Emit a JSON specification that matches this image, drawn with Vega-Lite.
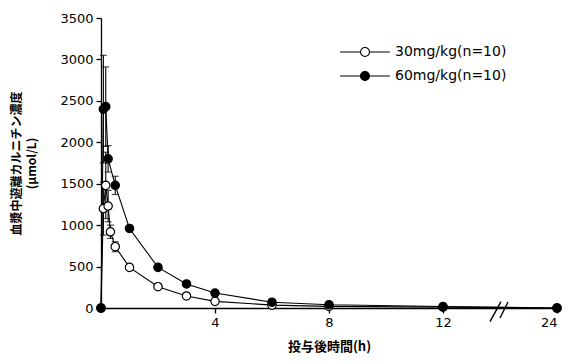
{
  "$schema": "https://vega.github.io/schema/vega-lite/v6.json",
  "width": 456,
  "height": 290,
  "autosize": {"type": "none"},
  "padding": {"left": 101, "top": 18, "right": 14, "bottom": 56},
  "background": "white",
  "config": {
    "view": {"stroke": null},
    "axis": {"grid": false, "domainColor": "black", "tickColor": "black", "labelColor": "black", "titleColor": "black", "labelFont": "DejaVu Sans", "labelFontSize": 13, "domainWidth": 1.3, "tickWidth": 1.3}
  },
  "datasets": {
    "conc": [
      {"t": 0, "v": 0, "lo": null, "hi": null, "group": "30mg/kg(n=10)"},
      {"t": 0.083, "v": 1200, "lo": 880, "hi": 1520, "group": "30mg/kg(n=10)"},
      {"t": 0.167, "v": 1480, "lo": 1080, "hi": 1880, "group": "30mg/kg(n=10)"},
      {"t": 0.25, "v": 1230, "lo": 1040, "hi": 1420, "group": "30mg/kg(n=10)"},
      {"t": 0.33, "v": 920, "lo": 840, "hi": 1000, "group": "30mg/kg(n=10)"},
      {"t": 0.5, "v": 740, "lo": 680, "hi": 800, "group": "30mg/kg(n=10)"},
      {"t": 1, "v": 490, "lo": null, "hi": null, "group": "30mg/kg(n=10)"},
      {"t": 2, "v": 257, "lo": null, "hi": null, "group": "30mg/kg(n=10)"},
      {"t": 3, "v": 145, "lo": null, "hi": null, "group": "30mg/kg(n=10)"},
      {"t": 4, "v": 80, "lo": null, "hi": null, "group": "30mg/kg(n=10)"},
      {"t": 6, "v": 35, "lo": null, "hi": null, "group": "30mg/kg(n=10)"},
      {"t": 8, "v": 20, "lo": null, "hi": null, "group": "30mg/kg(n=10)"},
      {"t": 12, "v": 10, "lo": null, "hi": null, "group": "30mg/kg(n=10)"},
      {"t": 24, "v": 0, "lo": null, "hi": null, "group": "30mg/kg(n=10)"},
      {"t": 0, "v": 0, "lo": null, "hi": null, "group": "60mg/kg(n=10)"},
      {"t": 0.083, "v": 2400, "lo": 1750, "hi": 3050, "group": "60mg/kg(n=10)"},
      {"t": 0.167, "v": 2430, "lo": 1950, "hi": 2910, "group": "60mg/kg(n=10)"},
      {"t": 0.25, "v": 1800, "lo": 1640, "hi": 1960, "group": "60mg/kg(n=10)"},
      {"t": 0.5, "v": 1480, "lo": 1370, "hi": 1590, "group": "60mg/kg(n=10)"},
      {"t": 1, "v": 960, "lo": null, "hi": null, "group": "60mg/kg(n=10)"},
      {"t": 2, "v": 490, "lo": null, "hi": null, "group": "60mg/kg(n=10)"},
      {"t": 3, "v": 290, "lo": null, "hi": null, "group": "60mg/kg(n=10)"},
      {"t": 4, "v": 180, "lo": null, "hi": null, "group": "60mg/kg(n=10)"},
      {"t": 6, "v": 70, "lo": null, "hi": null, "group": "60mg/kg(n=10)"},
      {"t": 8, "v": 40, "lo": null, "hi": null, "group": "60mg/kg(n=10)"},
      {"t": 12, "v": 18, "lo": null, "hi": null, "group": "60mg/kg(n=10)"},
      {"t": 24, "v": 0, "lo": null, "hi": null, "group": "60mg/kg(n=10)"}
    ],
    "breaks": [
      {"xa": 16.95, "xb": 18.1, "ya": -165, "yb": 76},
      {"xa": 18.0, "xb": 18.84, "ya": -121, "yb": 72}
    ]
  },
  "layer": [
    {
      "data": {"name": "breaks"},
      "mark": {"type": "rule", "color": "black", "strokeWidth": 1.4},
      "encoding": {
        "x": {"field": "xa", "type": "quantitative", "scale": {"domain": [0, 12, 24], "range": [0, 342, 456]}},
        "x2": {"field": "xb"},
        "y": {"field": "ya", "type": "quantitative", "scale": {"domain": [0, 3500]}},
        "y2": {"field": "yb"}
      }
    },
    {
      "data": {"name": "conc"},
      "mark": {"type": "line", "color": "black", "strokeWidth": 1.1},
      "encoding": {
        "x": {"field": "t", "type": "quantitative", "scale": {"domain": [0, 12, 24], "range": [0, 342, 456]},
          "axis": {"values": [4, 8, 12, 24], "title": "投与後時間(h)", "titleFont": "Noto Sans CJK JP", "titleFontWeight": "bold", "titleFontSize": 13, "titlePadding": 11, "tickSize": 5, "labelPadding": 3}},
        "y": {"field": "v", "type": "quantitative", "scale": {"domain": [0, 3500]},
          "axis": {"values": [0, 500, 1000, 1500, 2000, 2500, 3000, 3500], "format": "d", "title": ["血漿中遊離カルニチン濃度", "(μmol/L)"], "titleFont": "Noto Sans CJK JP", "titleFontWeight": "bold", "titleFontSize": 12, "titlePadding": 21, "titleLineHeight": 15, "tickSize": 5, "labelPadding": 3}},
        "detail": {"field": "group"},
        "order": {"field": "t"}
      }
    },
    {
      "data": {"name": "conc"},
      "transform": [{"filter": "datum.hi != null"}],
      "mark": {"type": "rule", "color": "black", "strokeWidth": 1.1},
      "encoding": {
        "x": {"field": "t", "type": "quantitative"},
        "y": {"field": "lo", "type": "quantitative"},
        "y2": {"field": "hi"}
      }
    },
    {
      "data": {"name": "conc"},
      "transform": [{"filter": "datum.hi != null"}],
      "mark": {"type": "tick", "orient": "horizontal", "color": "black", "size": 7, "thickness": 1.2},
      "encoding": {
        "x": {"field": "t", "type": "quantitative"},
        "y": {"field": "hi", "type": "quantitative"}
      }
    },
    {
      "data": {"name": "conc"},
      "transform": [{"filter": "datum.hi != null"}],
      "mark": {"type": "tick", "orient": "horizontal", "color": "black", "size": 7, "thickness": 1.2},
      "encoding": {
        "x": {"field": "t", "type": "quantitative"},
        "y": {"field": "lo", "type": "quantitative"}
      }
    },
    {
      "data": {"name": "conc"},
      "mark": {"type": "point", "shape": "circle", "filled": false, "stroke": "black", "strokeWidth": 1.2, "size": 70, "opacity": 1},
      "encoding": {
        "x": {"field": "t", "type": "quantitative"},
        "y": {"field": "v", "type": "quantitative"},
        "fill": {"field": "group", "type": "nominal",
          "scale": {"domain": ["30mg/kg(n=10)", "60mg/kg(n=10)"], "range": ["white", "black"]},
          "legend": {"title": null, "orient": "none", "legendX": 257, "legendY": 27,
            "symbolType": "M-5,0L-0.9,0M0.9,0L5,0M0.9,0A0.9,0.9,0,1,1,-0.9,0A0.9,0.9,0,1,1,0.9,0Z",
            "symbolSize": 100, "symbolStrokeColor": "black", "symbolStrokeWidth": 1.1, "symbolOpacity": 1,
            "labelFont": "DejaVu Sans", "labelFontSize": 14, "labelColor": "black", "labelOffset": 23, "rowPadding": 10, "labelLimit": 300}}
      }
    }
  ]
}
